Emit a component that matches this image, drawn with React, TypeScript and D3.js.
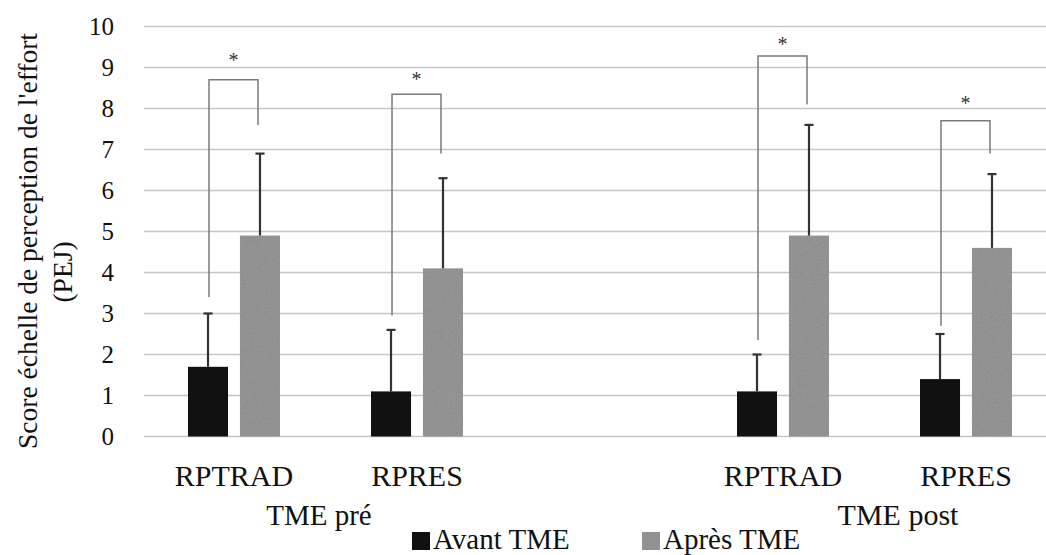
import React from "react";
import * as d3 from "d3";

// slots on the x axis (middle one left empty, as in the original figure)
const slots = ["pre-RPTRAD", "pre-RPRES", "gap", "post-RPTRAD", "post-RPRES"];
const slotLabels = ["RPTRAD", "RPRES", "", "RPTRAD", "RPRES"];
const barSlots = ["pre-RPTRAD", "pre-RPRES", "post-RPTRAD", "post-RPRES"];
const groupLabels = ["TME pré", "TME post"];
const seriesNames = ["Avant TME", "Après TME"];

const avant = [1.7, 1.1, 1.1, 1.4];
const avantSD = [1.3, 1.5, 0.9, 1.1];
const apres = [4.9, 4.1, 4.9, 4.6];
const apresSD = [2.0, 2.2, 2.7, 1.8];

// significance brackets (y values)
const bracketTop = [8.7, 8.35, 9.28, 7.7];
const bracketLeftEnd = [3.4, 2.95, 2.35, 2.7];
const bracketRightEnd = [7.6, 6.9, 8.1, 6.9];
const starY = [9.35, 8.9, 9.75, 8.3];

const yTicks = [0, 1, 2, 3, 4, 5, 6, 7, 8, 9, 10];

const W = 1046;
const H = 555;
const font = "'Liberation Serif', 'Times New Roman', serif";
const colors = ["#111111", "#8b8b8b"];

const App = () => {
  const x = d3.scaleBand().domain(slots).range([142.5, 1057.5]);
  const inner = d3
    .scaleBand()
    .domain(["avant", "apres"])
    .range([45.5, 137.5])
    .paddingInner(0.23);
  const y = d3.scaleLinear().domain([0, 10]).range([436.5, 26.5]);

  const series = [
    { key: "avant", vals: avant, sd: avantSD },
    { key: "apres", vals: apres, sd: apresSD },
  ];
  const bw = inner.bandwidth();
  const cx = (slot, key) => x(slot) + inner(key) + bw / 2;

  const preMid = (x(slots[0]) + x(slots[1]) + x.bandwidth()) / 2 - 6.5;
  const postMid = (x(slots[3]) + x(slots[4]) + x.bandwidth()) / 2 + 23.5;

  return (
    <svg width={W} height={H} style={{ position: "absolute", left: 0, top: 0, background: "#fff" }}>
      <rect width={W} height={H} fill="#fff" />
      <defs>
        <filter id="grain" x="0" y="0" width="100%" height="100%">
          <feTurbulence type="fractalNoise" baseFrequency="1.2" numOctaves="1" result="n" />
          <feColorMatrix in="n" type="saturate" values="0" result="g" />
          <feComponentTransfer in="g" result="g2">
            <feFuncA type="linear" slope="0.25" />
          </feComponentTransfer>
          <feComposite in="g2" in2="SourceGraphic" operator="in" result="c" />
          <feMerge>
            <feMergeNode in="SourceGraphic" />
            <feMergeNode in="c" />
          </feMerge>
        </filter>
      </defs>

      {/* gridlines */}
      {yTicks.map((t) => (
        <line key={t} x1={144} x2={W} y1={y(t)} y2={y(t)} stroke="#c6c6c6" strokeWidth={1.6} />
      ))}

      {/* y tick labels */}
      {yTicks.map((t) => (
        <text key={t} x={114} y={y(t)} dy="0.35em" textAnchor="end" fontFamily={font} fontSize={25} fill="#111">
          {t}
        </text>
      ))}

      {/* y axis title */}
      <text
        transform="translate(37,241) rotate(-90)"
        textAnchor="middle"
        fontFamily={font}
        fontSize={27.5}
        fill="#111"
      >
        Score échelle de perception de l'effort
      </text>
      <text transform="translate(72,272) rotate(-90)" textAnchor="middle" fontFamily={font} fontSize={27.5} fill="#111">
        (PEJ)
      </text>

      {/* bars */}
      {series.map((s, si) =>
        barSlots.map((slot, i) => (
          <rect
            key={s.key + slot}
            x={x(slot) + inner(s.key)}
            y={y(s.vals[i])}
            width={bw}
            height={y(0) - y(s.vals[i])}
            fill={colors[si]}
            filter={si === 1 ? "url(#grain)" : undefined}
          />
        ))
      )}

      {/* error bars (upper only) */}
      {series.map((s) =>
        barSlots.map((slot, i) => {
          const c = cx(slot, s.key);
          const top = y(s.vals[i] + s.sd[i]);
          return (
            <g key={"e" + s.key + slot} stroke="#333" strokeWidth={2.2}>
              <line x1={c} x2={c} y1={y(s.vals[i])} y2={top} />
              <line x1={c - 4.5} x2={c + 4.5} y1={top} y2={top} />
            </g>
          );
        })
      )}

      {/* significance brackets */}
      {barSlots.map((slot, i) => {
        const l = cx(slot, "avant") + 1;
        const r = cx(slot, "apres") - 2;
        return (
          <g key={"b" + slot}>
            <path
              d={`M${l},${y(bracketLeftEnd[i])}V${y(bracketTop[i])}H${r}V${y(bracketRightEnd[i])}`}
              fill="none"
              stroke="#7a7a7a"
              strokeWidth={1.5}
            />
            <text
              x={(l + r) / 2}
              y={y(starY[i])}
              dy="0.7em"
              textAnchor="middle"
              fontFamily={font}
              fontSize={20}
              fill="#333"
            >
              *
            </text>
          </g>
        );
      })}

      {/* category labels */}
      {slots.map((slot, i) => (
        <text
          key={"c" + slot}
          x={x(slot) + x.bandwidth() / 2}
          y={486}
          textAnchor="middle"
          fontFamily={font}
          fontSize={30}
          fill="#111"
        >
          {slotLabels[i]}
        </text>
      ))}
      <text x={preMid} y={525} textAnchor="middle" fontFamily={font} fontSize={29} fill="#111">
        {groupLabels[0]}
      </text>
      <text x={postMid} y={525} textAnchor="middle" fontFamily={font} fontSize={30} fill="#111">
        {groupLabels[1]}
      </text>

      {/* legend */}
      {seriesNames.map((name, i) => {
        const lx = i === 0 ? 412 : 642;
        return (
          <g key={name}>
            <rect x={lx} y={532} width={18} height={18} fill={colors[i]} filter={i === 1 ? "url(#grain)" : undefined} />
            <text x={lx + 21} y={548.5} fontFamily={font} fontSize={29} fill="#111">
              {name}
            </text>
          </g>
        );
      })}
    </svg>
  );
};

export default App;
